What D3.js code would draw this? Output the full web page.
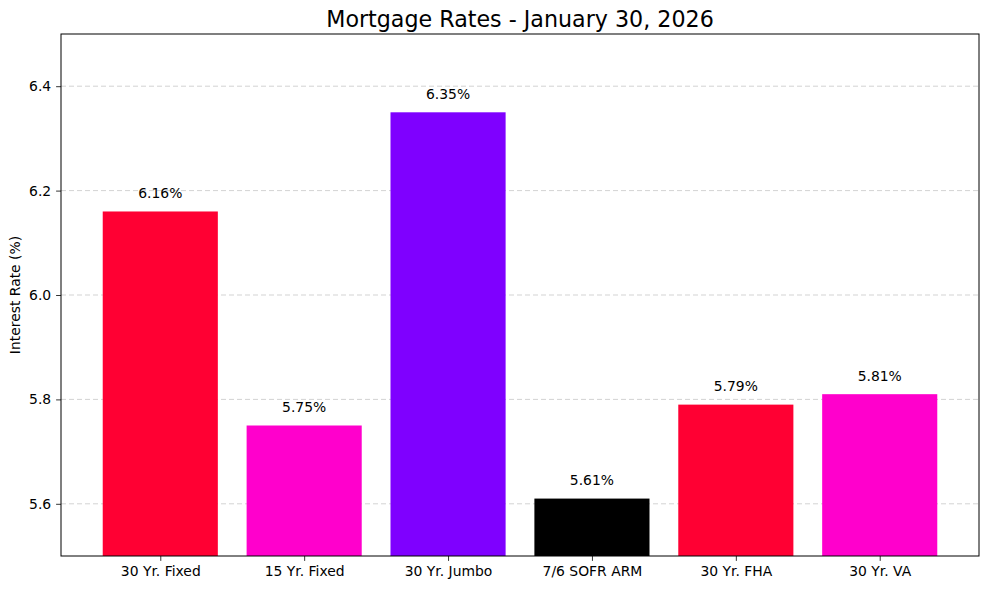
<!DOCTYPE html>
<html>
<head>
<meta charset="utf-8">
<script src="https://cdn.jsdelivr.net/npm/d3@7"></script>
<style>
  body { margin: 0; background: #fff; }
  svg text { font-family: "DejaVu Sans", sans-serif; fill: #000; }
</style>
</head>
<body>
<svg width="989" height="590"></svg>
<script>
// Chart data
const categories = ["30 Yr. Fixed", "15 Yr. Fixed", "30 Yr. Jumbo", "7/6 SOFR ARM", "30 Yr. FHA", "30 Yr. VA"];
const rates = [6.16, 5.75, 6.35, 5.61, 5.79, 5.81];
const barColors = ["#ff0033", "#ff00cc", "#7f00ff", "#000000", "#ff0033", "#ff00cc"];
const yTicks = [5.6, 5.8, 6.0, 6.2, 6.4];

const svg = d3.select("svg");
const margin = { top: 34, right: 10, bottom: 34, left: 61 };
const width = 989 - margin.left - margin.right;
const height = 590 - margin.top - margin.bottom;
const g = svg.append("g").attr("transform", `translate(${margin.left},${margin.top})`);

// matplotlib-style linear x with 5% margins around the bars
const x = d3.scaleLinear().domain([-0.69, categories.length - 1 + 0.69]).range([0, width]);
const y = d3.scaleLinear().domain([5.5, 6.5]).range([height, 0]);
const barW = x(0.8) - x(0);

// Grid lines (behind bars)
g.selectAll(".grid")
  .data(yTicks)
  .enter().append("line")
  .attr("x1", 0).attr("x2", width)
  .attr("y1", d => y(d)).attr("y2", d => y(d))
  .attr("stroke", "#b0b0b0").attr("stroke-opacity", 0.7)
  .attr("stroke-dasharray", "5,3").attr("stroke-width", 0.8);

// Bars
g.selectAll(".bar")
  .data(rates)
  .enter().append("rect")
  .attr("x", (d, i) => x(i) - barW / 2)
  .attr("y", d => y(d))
  .attr("width", barW)
  .attr("height", d => height - y(d))
  .attr("fill", (d, i) => barColors[i]);

// Value labels
g.selectAll(".val")
  .data(rates)
  .enter().append("text")
  .attr("x", (d, i) => x(i))
  .attr("y", d => y(d + 0.02) - 3)
  .attr("text-anchor", "middle")
  .style("font-size", "13.9px")
  .text(d => d.toFixed(2) + "%");

// Axes
const yAxis = g.append("g")
  .call(d3.axisLeft(y).tickValues(yTicks).tickFormat(d3.format(".1f")).tickSize(4.9).tickPadding(4.9));
const xAxis = g.append("g").attr("transform", `translate(0,${height})`)
  .call(d3.axisBottom(x).tickValues(d3.range(categories.length)).tickFormat(i => categories[i]).tickSize(4.9).tickPadding(4.9));
[xAxis, yAxis].forEach(a => {
  a.select(".domain").remove();
  a.selectAll("line").attr("stroke", "#000").attr("stroke-width", 0.8);
  a.selectAll("text").style("font-size", "13.9px").attr("fill", "#000");
});

// Frame
g.append("rect")
  .attr("width", width).attr("height", height)
  .attr("fill", "none").attr("stroke", "#000").attr("stroke-width", 1);

// Title and y label
svg.append("text")
  .attr("x", margin.left + width / 2).attr("y", 27)
  .attr("text-anchor", "middle")
  .style("font-size", "22.2px")
  .text("Mortgage Rates - January 30, 2026");

svg.append("text")
  .attr("transform", `translate(20,${margin.top + height / 2}) rotate(-90)`)
  .attr("text-anchor", "middle")
  .style("font-size", "13.9px")
  .text("Interest Rate (%)");
</script>
</body>
</html>
